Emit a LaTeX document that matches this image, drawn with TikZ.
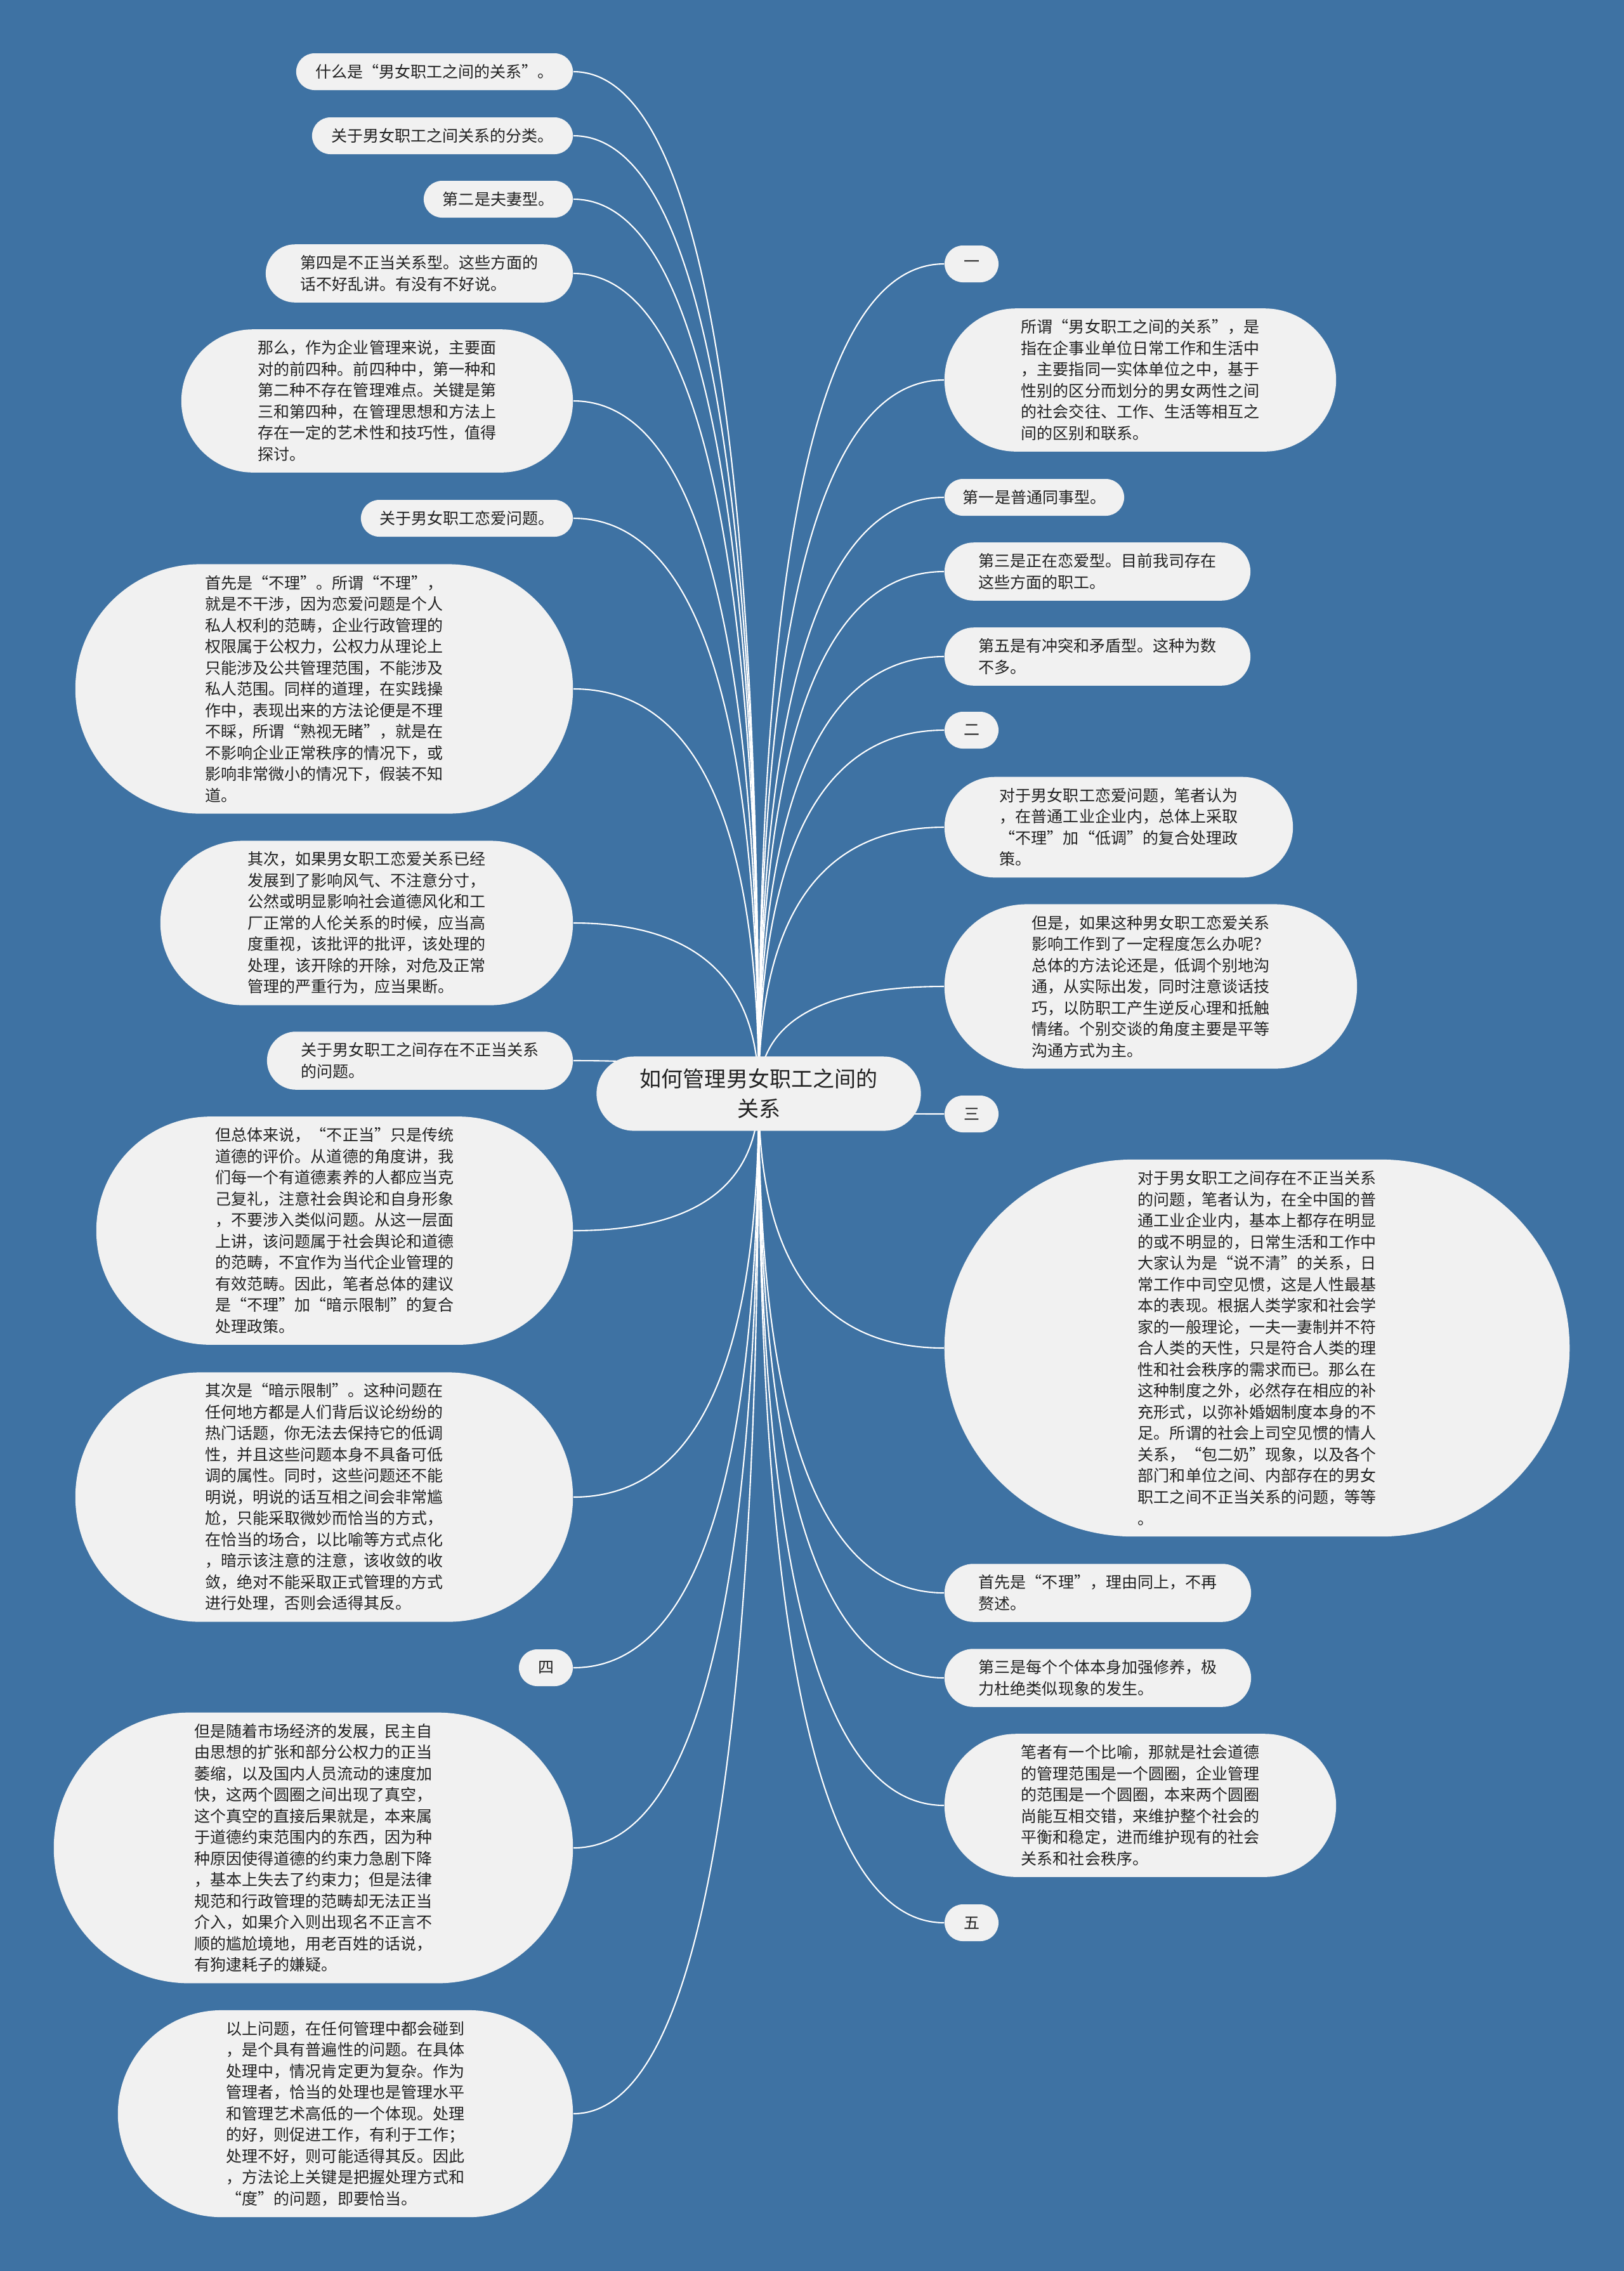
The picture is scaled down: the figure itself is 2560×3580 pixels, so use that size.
\documentclass[tikz,border=0pt]{standalone}
\usepackage{fontspec}
\newfontfamily\cjkfont{Noto Sans CJK SC}[CharacterWidth=Full]
\usetikzlibrary{calc, backgrounds}
\definecolor{pagefill}{RGB}{62,114,163}
\definecolor{leaffill}{RGB}{241,241,241}
\definecolor{inkcolor}{RGB}{34,34,34}
\newcommand{\leaffont}{\cjkfont\fontsize{7.11pt}{9.53pt}\selectfont}
\newcommand{\hubfont}{\cjkfont\fontsize{9.67pt}{13.37pt}\selectfont}

\begin{document}
\begin{tikzpicture}[
    x=0.01cm, y=-0.01cm,
    leaf/.style n args={3}{fill=leaffill, text=inkcolor, inner sep=0pt,
      align=left, font=\leaffont, minimum width=#1, minimum height=#2,
      rounded corners=#3},
    hub/.style={fill=leaffill, text=inkcolor, inner sep=0pt, align=center,
      font=\hubfont, minimum width=5.11cm, minimum height=1.17cm,
      rounded corners=0.585cm},
    branch/.style={draw=white, line width=0.6pt,
      to path={.. controls ($(\tikztostart)!0.667!(\tikztostart |- \tikztotarget)$)
        and ($(\tikztotarget)!0.667!(\tikztostart |- \tikztotarget)$) .. (\tikztotarget)}}
  ]
  \useasboundingbox (0,0) rectangle (2560,3580);

  \node[hub] (title) at (1196,1724) {如何管理男女职工之间的\\关系};

  % left side
  \node[leaf={4.36cm}{0.58cm}{0.29cm}] (what) at (685,113)
    {什么是“男女职工之间的关系”。};
  \node[leaf={4.11cm}{0.58cm}{0.29cm}] (kinds) at (697.5,214)
    {关于男女职工之间关系的分类。};
  \node[leaf={2.35cm}{0.58cm}{0.29cm}] (kindtwo) at (785.5,314)
    {第二是夫妻型。};
  \node[leaf={4.84cm}{0.915cm}{0.4575cm}] (kindfour) at (661,431)
    {第四是不正当关系型。这些方面的\\话不好乱讲。有没有不好说。};
  \node[leaf={6.17cm}{2.255cm}{1.1275cm}] (focus) at (594.5,632)
    {那么，作为企业管理来说，主要面\\对的前四种。前四种中，第一种和\\第二种不存在管理难点。关键是第\\三和第四种，在管理思想和方法上\\存在一定的艺术性和技巧性，值得\\探讨。};
  \node[leaf={3.34cm}{0.58cm}{0.29cm}] (love) at (736,817)
    {关于男女职工恋爱问题。};
  \node[leaf={7.84cm}{3.93cm}{1.965cm}] (ignore) at (511,1086)
    {首先是“不理”。所谓“不理”，\\就是不干涉，因为恋爱问题是个人\\私人权利的范畴，企业行政管理的\\权限属于公权力，公权力从理论上\\只能涉及公共管理范围，不能涉及\\私人范围。同样的道理，在实践操\\作中，表现出来的方法论便是不理\\不睬，所谓“熟视无睹”，就是在\\不影响企业正常秩序的情况下，或\\影响非常微小的情况下，假装不知\\道。};
  \node[leaf={6.50cm}{2.59cm}{1.295cm}] (serious) at (578,1455)
    {其次，如果男女职工恋爱关系已经\\发展到了影响风气、不注意分寸，\\公然或明显影响社会道德风化和工\\厂正常的人伦关系的时候，应当高\\度重视，该批评的批评，该处理的\\处理，该开除的开除，对危及正常\\管理的严重行为，应当果断。};
  \node[leaf={4.82cm}{0.915cm}{0.4575cm}] (improper) at (662,1672)
    {关于男女职工之间存在不正当关系\\的问题。};
  \node[leaf={7.51cm}{3.595cm}{1.7975cm}] (overall) at (527.5,1940)
    {但总体来说，“不正当”只是传统\\道德的评价。从道德的角度讲，我\\们每一个有道德素养的人都应当克\\己复礼，注意社会舆论和自身形象\\，不要涉入类似问题。从这一层面\\上讲，该问题属于社会舆论和道德\\的范畴，不宜作为当代企业管理的\\有效范畴。因此，笔者总体的建议\\是“不理”加“暗示限制”的复合\\处理政策。};
  \node[leaf={7.84cm}{3.93cm}{1.965cm}] (hint) at (511,2360)
    {其次是“暗示限制”。这种问题在\\任何地方都是人们背后议论纷纷的\\热门话题，你无法去保持它的低调\\性，并且这些问题本身不具备可低\\调的属性。同时，这些问题还不能\\明说，明说的话互相之间会非常尴\\尬，只能采取微妙而恰当的方式，\\在恰当的场合，以比喻等方式点化\\，暗示该注意的注意，该收敛的收\\敛，绝对不能采取正式管理的方式\\进行处理，否则会适得其反。};
  \node[leaf={0.85cm}{0.58cm}{0.29cm}] (four) at (860.5,2629) {四};
  \node[leaf={8.18cm}{4.265cm}{2.1325cm}] (vacuum) at (494,2913)
    {但是随着市场经济的发展，民主自\\由思想的扩张和部分公权力的正当\\萎缩，以及国内人员流动的速度加\\快，这两个圆圈之间出现了真空，\\这个真空的直接后果就是，本来属\\于道德约束范围内的东西，因为种\\种原因使得道德的约束力急剧下降\\，基本上失去了约束力；但是法律\\规范和行政管理的范畴却无法正当\\介入，如果介入则出现名不正言不\\顺的尴尬境地，用老百姓的话说，\\有狗逮耗子的嫌疑。};
  \node[leaf={7.17cm}{3.26cm}{1.63cm}] (summary) at (544.5,3332)
    {以上问题，在任何管理中都会碰到\\，是个具有普遍性的问题。在具体\\处理中，情况肯定更为复杂。作为\\管理者，恰当的处理也是管理水平\\和管理艺术高低的一个体现。处理\\的好，则促进工作，有利于工作；\\处理不好，则可能适得其反。因此\\，方法论上关键是把握处理方式和\\“度”的问题，即要恰当。};

  % right side
  \node[leaf={0.85cm}{0.58cm}{0.29cm}] (one) at (1531.5,416) {一};
  \node[leaf={6.17cm}{2.255cm}{1.1275cm}] (meaning) at (1797.5,599)
    {所谓“男女职工之间的关系”，是\\指在企事业单位日常工作和生活中\\，主要指同一实体单位之中，基于\\性别的区分而划分的男女两性之间\\的社会交往、工作、生活等相互之\\间的区别和联系。};
  \node[leaf={2.83cm}{0.58cm}{0.29cm}] (kindone) at (1630.5,784)
    {第一是普通同事型。};
  \node[leaf={4.82cm}{0.915cm}{0.4575cm}] (kindthree) at (1730,901)
    {第三是正在恋爱型。目前我司存在\\这些方面的职工。};
  \node[leaf={4.82cm}{0.915cm}{0.4575cm}] (kindfive) at (1730,1035)
    {第五是有冲突和矛盾型。这种为数\\不多。};
  \node[leaf={0.85cm}{0.58cm}{0.29cm}] (two) at (1531.5,1151) {二};
  \node[leaf={5.49cm}{1.585cm}{0.7925cm}] (lowkey) at (1763.5,1304)
    {对于男女职工恋爱问题，笔者认为\\，在普通工业企业内，总体上采取\\“不理”加“低调”的复合处理政\\策。};
  \node[leaf={6.50cm}{2.59cm}{1.295cm}] (affect) at (1814,1555)
    {但是，如果这种男女职工恋爱关系\\影响工作到了一定程度怎么办呢？\\总体的方法论还是，低调个别地沟\\通，从实际出发，同时注意谈话技\\巧，以防职工产生逆反心理和抵触\\情绪。个别交谈的角度主要是平等\\沟通方式为主。};
  \node[leaf={0.85cm}{0.58cm}{0.29cm}] (three) at (1531.5,1756) {三};
  \node[leaf={9.85cm}{5.94cm}{2.97cm}] (common) at (1981.5,2125)
    {对于男女职工之间存在不正当关系\\的问题，笔者认为，在全中国的普\\通工业企业内，基本上都存在明显\\的或不明显的，日常生活和工作中\\大家认为是“说不清”的关系，日\\常工作中司空见惯，这是人性最基\\本的表现。根据人类学家和社会学\\家的一般理论，一夫一妻制并不符\\合人类的天性，只是符合人类的理\\性和社会秩序的需求而已。那么在\\这种制度之外，必然存在相应的补\\充形式，以弥补婚姻制度本身的不\\足。所谓的社会上司空见惯的情人\\关系，“包二奶”现象，以及各个\\部门和单位之间、内部存在的男女\\职工之间不正当关系的问题，等等\\。};
  \node[leaf={4.83cm}{0.915cm}{0.4575cm}] (ignoreagain) at (1730.5,2511)
    {首先是“不理”，理由同上，不再\\赘述。};
  \node[leaf={4.83cm}{0.915cm}{0.4575cm}] (selfdiscipline) at (1730.5,2645)
    {第三是每个个体本身加强修养，极\\力杜绝类似现象的发生。};
  \node[leaf={6.17cm}{2.255cm}{1.1275cm}] (circles) at (1797.5,2846)
    {笔者有一个比喻，那就是社会道德\\的管理范围是一个圆圈，企业管理\\的范围是一个圆圈，本来两个圆圈\\尚能互相交错，来维护整个社会的\\平衡和稳定，进而维护现有的社会\\关系和社会秩序。};
  \node[leaf={0.85cm}{0.58cm}{0.29cm}] (five) at (1531.5,3031) {五};

  % connectors behind the boxes
  \begin{scope}[on background layer]
    \fill[pagefill] (0,0) rectangle (2560,3580);
    \draw[branch] (title.center) to (what.east);
    \draw[branch] (title.center) to (kinds.east);
    \draw[branch] (title.center) to (kindtwo.east);
    \draw[branch] (title.center) to (kindfour.east);
    \draw[branch] (title.center) to (focus.east);
    \draw[branch] (title.center) to (love.east);
    \draw[branch] (title.center) to (ignore.east);
    \draw[branch] (title.center) to (serious.east);
    \draw[branch] (title.center) to (improper.east);
    \draw[branch] (title.center) to (overall.east);
    \draw[branch] (title.center) to (hint.east);
    \draw[branch] (title.center) to (four.east);
    \draw[branch] (title.center) to (vacuum.east);
    \draw[branch] (title.center) to (summary.east);
    \draw[branch] (title.center) to (one.west);
    \draw[branch] (title.center) to (meaning.west);
    \draw[branch] (title.center) to (kindone.west);
    \draw[branch] (title.center) to (kindthree.west);
    \draw[branch] (title.center) to (kindfive.west);
    \draw[branch] (title.center) to (two.west);
    \draw[branch] (title.center) to (lowkey.west);
    \draw[branch] (title.center) to (affect.west);
    \draw[branch] (title.center) to (three.west);
    \draw[branch] (title.center) to (common.west);
    \draw[branch] (title.center) to (ignoreagain.west);
    \draw[branch] (title.center) to (selfdiscipline.west);
    \draw[branch] (title.center) to (circles.west);
    \draw[branch] (title.center) to (five.west);
  \end{scope}
\end{tikzpicture}
\end{document}
